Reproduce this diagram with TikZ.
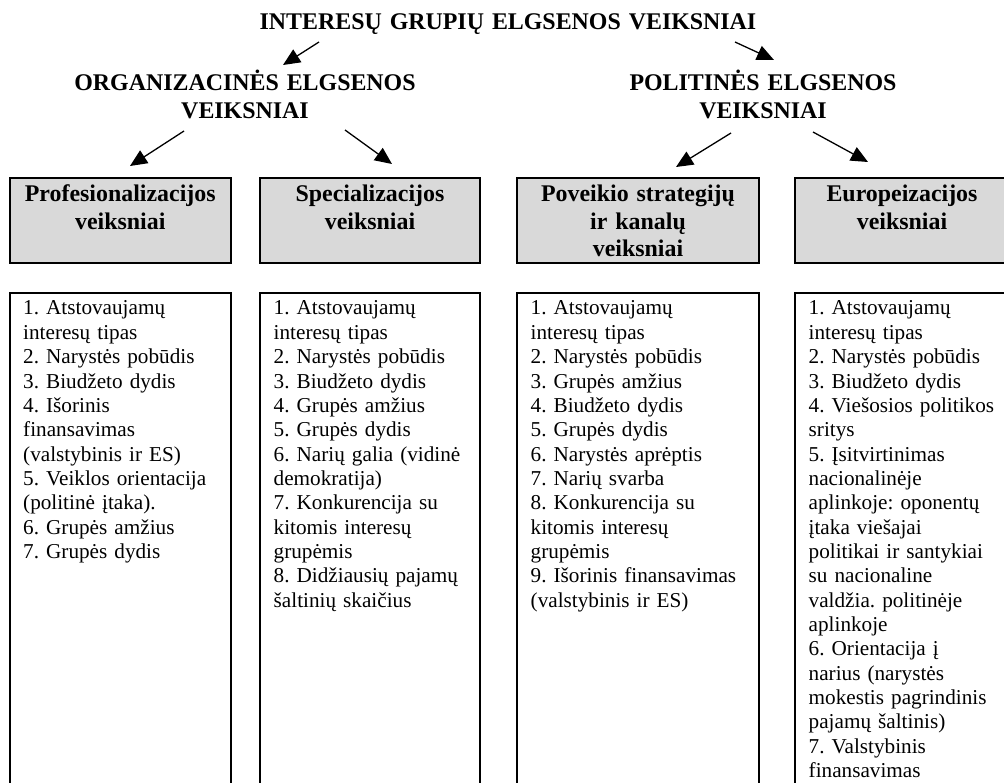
\documentclass[tikz,border=0pt]{standalone}
\usepackage{fontspec}
\setmainfont{Liberation Serif}
\usetikzlibrary{arrows.meta}
\frenchspacing
\begin{document}
\frenchspacing
\begin{tikzpicture}[x=1pt,y=-1pt,
  hbox/.style={draw=black, line width=2pt, fill=black!15},
  lbox/.style={draw=black, line width=2pt},
  htext/.style={font=\fontsize{23.9}{27.5}\selectfont\bfseries, align=center, inner sep=0pt, anchor=base},
  ltext/.style={font=\fontsize{21.2}{24.35}\selectfont\frenchspacing, align=left, text width=240pt, inner sep=0pt, anchor=base west},
  arr/.style={line width=1.3pt, -{Triangle[length=17pt,width=15pt]}}]
\useasboundingbox (0,0) rectangle (1004,783);
\clip (0,0) rectangle (1004,783);
\fill[white] (0,0) rectangle (1004,783);

% titles
\node[htext, text width=600pt] (title) at (508,29.5) {INTERESŲ GRUPIŲ ELGSENOS VEIKSNIAI};
\node[htext, text width=400pt] (org) at (245,91) {ORGANIZACINĖS ELGSENOS\\VEIKSNIAI};
\node[htext, text width=400pt] (pol) at (763,91) {POLITINĖS ELGSENOS\\VEIKSNIAI};

% heading boxes
\draw[hbox] (9.5,178) rectangle (231,263);
\draw[hbox] (260,178) rectangle (480,263);
\draw[hbox] (517,178) rectangle (759,263);
\draw[hbox] (795,178) rectangle (1010,263);
\node[htext, text width=220pt] (h1) at (120.25,202) {Profesionalizacijos\\veiksniai};
\node[htext, text width=220pt] (h2) at (370,202) {Specializacijos\\veiksniai};
\node[htext, text width=240pt] (h3) at (638,202) {Poveikio strategijų\\ir kanalų\\veiksniai};
\node[htext, text width=215pt] (h4) at (902,202) {Europeizacijos\\veiksniai};

% list boxes
\draw[lbox] (9.5,800) -- (9.5,293) -- (231,293) -- (231,800);
\draw[lbox] (260,800) -- (260,293) -- (480,293) -- (480,800);
\draw[lbox] (517,800) -- (517,293) -- (759,293) -- (759,800);
\draw[lbox] (795,800) -- (795,293) -- (1010,293);

\node[ltext] (l1) at (23,315) {1. Atstovaujamų\\interesų tipas\\2. Narystės pobūdis\\3. Biudžeto dydis\\4. Išorinis\\finansavimas\\(valstybinis ir ES)\\5. Veiklos orientacija\\(politinė įtaka).\\6. Grupės amžius\\7. Grupės dydis};
\node[ltext] (l2) at (273.5,315) {1. Atstovaujamų\\interesų tipas\\2. Narystės pobūdis\\3. Biudžeto dydis\\4. Grupės amžius\\5. Grupės dydis\\6. Narių galia (vidinė\\demokratija)\\7. Konkurencija su\\kitomis interesų\\grupėmis\\8. Didžiausių pajamų\\šaltinių skaičius};
\node[ltext] (l3) at (530.5,315) {1. Atstovaujamų\\interesų tipas\\2. Narystės pobūdis\\3. Grupės amžius\\4. Biudžeto dydis\\5. Grupės dydis\\6. Narystės aprėptis\\7. Narių svarba\\8. Konkurencija su\\kitomis interesų\\grupėmis\\9. Išorinis finansavimas\\(valstybinis ir ES)};
\node[ltext] (l4) at (808.5,315) {1. Atstovaujamų\\interesų tipas\\2. Narystės pobūdis\\3. Biudžeto dydis\\4. Viešosios politikos\\sritys\\5. Įsitvirtinimas\\nacionalinėje\\aplinkoje: oponentų\\įtaka viešajai\\politikai ir santykiai\\su nacionaline\\valdžia. politinėje\\aplinkoje\\6. Orientacija į\\narius (narystės\\mokestis pagrindinis\\pajamų šaltinis)\\7. Valstybinis\\finansavimas};

% arrow ends
\coordinate (a1s) at (319,42);  \coordinate (a1e) at (283,65);
\coordinate (a2s) at (735,42);  \coordinate (a2e) at (774,60);
\coordinate (a3s) at (184,131); \coordinate (a3e) at (130,166);
\coordinate (a4s) at (345,130); \coordinate (a4e) at (392,164);
\coordinate (a5s) at (731,133); \coordinate (a5e) at (676,167);
\coordinate (a6s) at (813,132); \coordinate (a6e) at (868,162);
\draw[arr] (a1s) -- (a1e);
\draw[arr] (a2s) -- (a2e);
\draw[arr] (a3s) -- (a3e);
\draw[arr] (a4s) -- (a4e);
\draw[arr] (a5s) -- (a5e);
\draw[arr] (a6s) -- (a6e);
\end{tikzpicture}
\end{document}
